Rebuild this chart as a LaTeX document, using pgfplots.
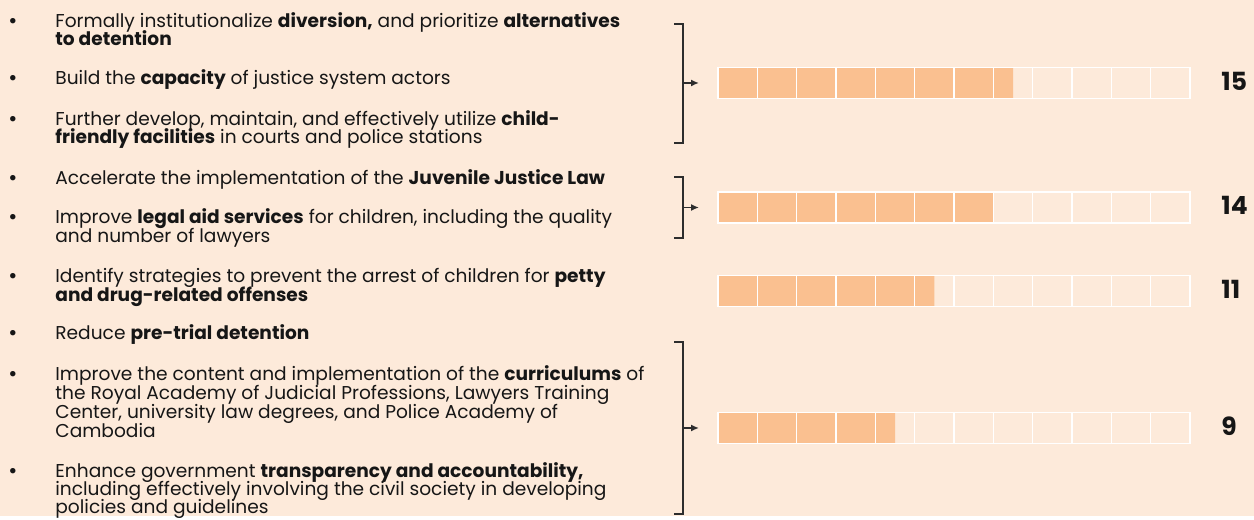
\documentclass[border=0pt]{standalone}
\usepackage{fontspec}
\setmainfont{Poppins}
\usepackage{pgfplots}
\usepackage{pgfplotstable}
\pgfplotsset{compat=1.18}
\usetikzlibrary{arrows.meta}
\definecolor{bg}{RGB}{253,234,218}
\definecolor{barfill}{RGB}{250,192,144}
\definecolor{txt}{RGB}{22,22,22}
\definecolor{brk}{RGB}{45,45,45}

\pgfplotstableread{
v y
15 433
14 308.5
11 225
9 88
}\filled

\pgfplotstableread{
v y
2 433
4 433
6 433
8 433
10 433
12 433
14 433
16 433
18 433
20 433
22 433
24 433
2 308.5
4 308.5
6 308.5
8 308.5
10 308.5
12 308.5
14 308.5
16 308.5
18 308.5
20 308.5
22 308.5
24 308.5
2 225
4 225
6 225
8 225
10 225
12 225
14 225
16 225
18 225
20 225
22 225
24 225
2 88
4 88
6 88
8 88
10 88
12 88
14 88
16 88
18 88
20 88
22 88
24 88
}\cells

\newcommand{\T}[2]{\node[anchor=base west, inner sep=0pt, text=txt, font=\fontsize{9.3}{10}\selectfont] at (55,{510-#1}) {#2};}
\newcommand{\B}[1]{\node[anchor=base, inner sep=0pt, text=txt, font=\fontsize{11}{10}\selectfont] at (13,{509-#1}) {\textbullet};}
\newcommand{\V}[2]{\node[anchor=base west, inner sep=0pt, text=txt, font=\fontsize{12.5}{13}\selectfont\bfseries] at (1221,{508.5-#1}) {#2};}

\begin{document}
\begin{tikzpicture}
\fill[bg] (0pt,0pt) rectangle (627pt,258pt);
\begin{axis}[at={(359pt,0pt)}, anchor=south west, scale only axis,
  width=236pt, height=258pt, xmin=0, xmax=24, ymin=0, ymax=516,
  axis lines=none, clip=false]
\addplot[xbar, bar shift=0pt, bar width=15.5pt, fill=barfill, draw=none] table[x=v,y=y]{\filled};
\addplot[xbar, bar shift=0pt, bar width=15.5pt, fill=none, draw=white, line width=0.7pt] table[x=v,y=y]{\cells};
\end{axis}
\begin{scope}[x=0.5pt,y=0.5pt]
% text
\B{22}\T{22}{Formally institutionalize \textbf{diversion,} and prioritize \textbf{alternatives}}
\T{40}{\textbf{to detention}}
\B{79}\T{79}{Build the \textbf{capacity} of justice system actors}
\B{120}\T{120}{Further develop, maintain, and effectively utilize \textbf{child-}}
\T{138}{\textbf{friendly facilities} in courts and police stations}
\B{179}\T{179}{Accelerate the implementation of the \textbf{Juvenile Justice Law}}
\B{218}\T{218}{Improve \textbf{legal aid services} for children, including the quality}
\T{237}{and number of lawyers}
\B{277}\T{277}{Identify strategies to prevent the arrest of children for \textbf{petty}}
\T{296}{\textbf{and drug-related offenses}}
\B{334}\T{334}{Reduce \textbf{pre-trial detention}}
\B{375}\T{375}{Improve the content and implementation of the \textbf{curriculums} of}
\T{394}{the Royal Academy of Judicial Professions, Lawyers Training}
\T{413}{Center, university law degrees, and Police Academy of}
\T{432}{Cambodia}
\B{472}\T{472}{Enhance government \textbf{transparency and accountability,}}
\T{490}{including effectively involving the civil society in developing}
\T{508}{policies and guidelines}

% brackets
\begin{scope}[draw=brk, line width=0.8pt]
\draw (674,{516-24}) -- (683,{516-24}) -- (683,{516-143}) -- (674,{516-143});
\draw[-{Latex[length=4pt,width=3.5pt]}] (683,433) -- (699,433);
\draw (674,{516-177}) -- (683,{516-177}) -- (683,{516-238}) -- (674,{516-238});
\draw[-{Latex[length=4pt,width=3.5pt]}] (683,308.5) -- (699,308.5);
\draw (674,{516-342}) -- (683,{516-342}) -- (683,{516-514}) -- (674,{516-514});
\draw[-{Latex[length=4pt,width=3.5pt]}] (683,88) -- (699,88);
\end{scope}

% values
\V{83}{15}
\V{207.5}{14}
\V{291}{11}
\V{428}{9}
\end{scope}
\end{tikzpicture}
\end{document}
